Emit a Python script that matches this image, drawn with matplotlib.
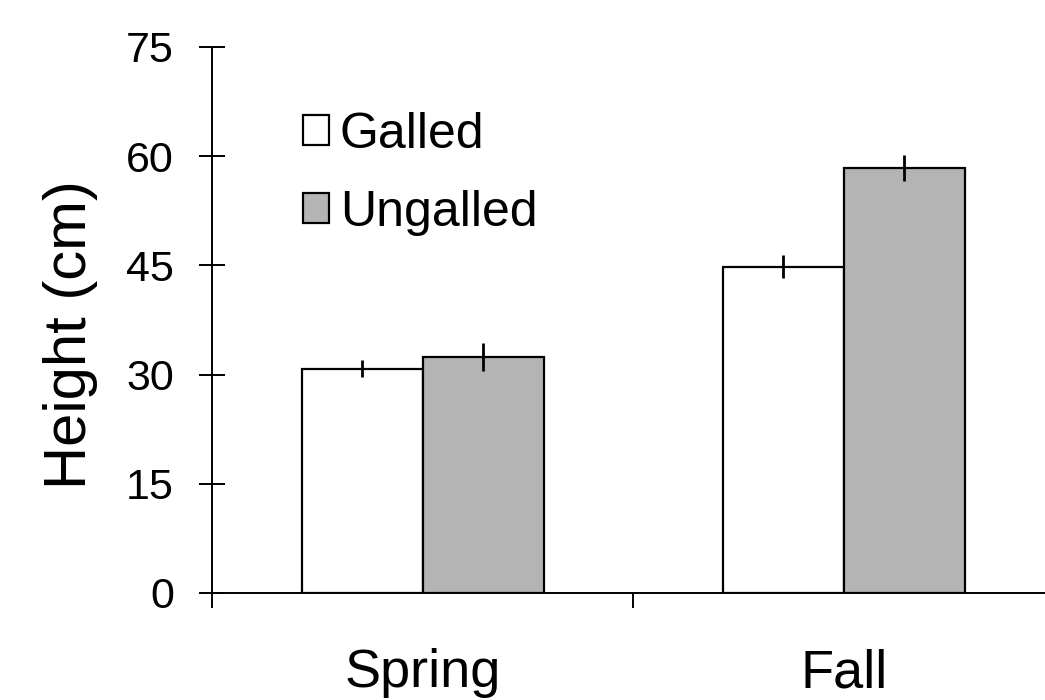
import matplotlib
matplotlib.use("Agg")
import matplotlib.pyplot as plt
import numpy as np

plt.rcParams["font.family"] = ["Liberation Sans", "DejaVu Sans"]

seasons = ["Spring", "Fall"]
galled = [30.8, 44.8]
galled_err = [1.2, 1.6]
ungalled = [32.4, 58.4]
ungalled_err = [1.9, 1.8]

fig = plt.figure(figsize=(10.45, 7.0), dpi=100)
ax = fig.add_axes((0.203, 0.153, 0.806, 0.780))

x = np.arange(len(seasons))
w = 0.287
ax.bar(x - w / 2, galled, w, yerr=galled_err, color="white",
       edgecolor="black", linewidth=1.6, label="Galled",
       error_kw=dict(ecolor="black", elinewidth=2.0, capsize=0))
ax.bar(x + w / 2, ungalled, w, yerr=ungalled_err, color="#b4b4b4",
       edgecolor="black", linewidth=1.6, label="Ungalled",
       error_kw=dict(ecolor="black", elinewidth=2.0, capsize=0))

ax.set_xlim(-0.5, 1.5)
ax.set_ylim(0, 75)
ax.set_yticks([0, 15, 30, 45, 60, 75])
ax.tick_params(axis="y", direction="inout", length=19, width=1.4,
               labelsize=31, pad=18)

# category boundaries as major ticks, names as minor tick labels
ax.set_xticks([-0.5, 0.5, 1.5])
ax.set_xticklabels([])
ax.tick_params(axis="x", which="major", direction="out", length=11,
               width=1.4)
ax.set_xticks(x, minor=True)
ax.set_xticklabels(seasons, minor=True)
ax.tick_params(axis="x", which="minor", length=0, labelsize=39, pad=40)

ax.set_ylabel("Height (cm)", fontsize=43)
ax.yaxis.set_label_coords(-0.135, 0.474)

for s in ("top", "right"):
    ax.spines[s].set_visible(False)
for s in ("left", "bottom"):
    ax.spines[s].set_linewidth(1.4)

ax.legend(loc="upper left", bbox_to_anchor=(0.084, 0.918), frameon=False,
          fontsize=36, handlelength=0.52, handleheight=0.52,
          handletextpad=0.22, labelspacing=0.64, borderaxespad=0)

fig.savefig("out.png", dpi=100, facecolor="white")
